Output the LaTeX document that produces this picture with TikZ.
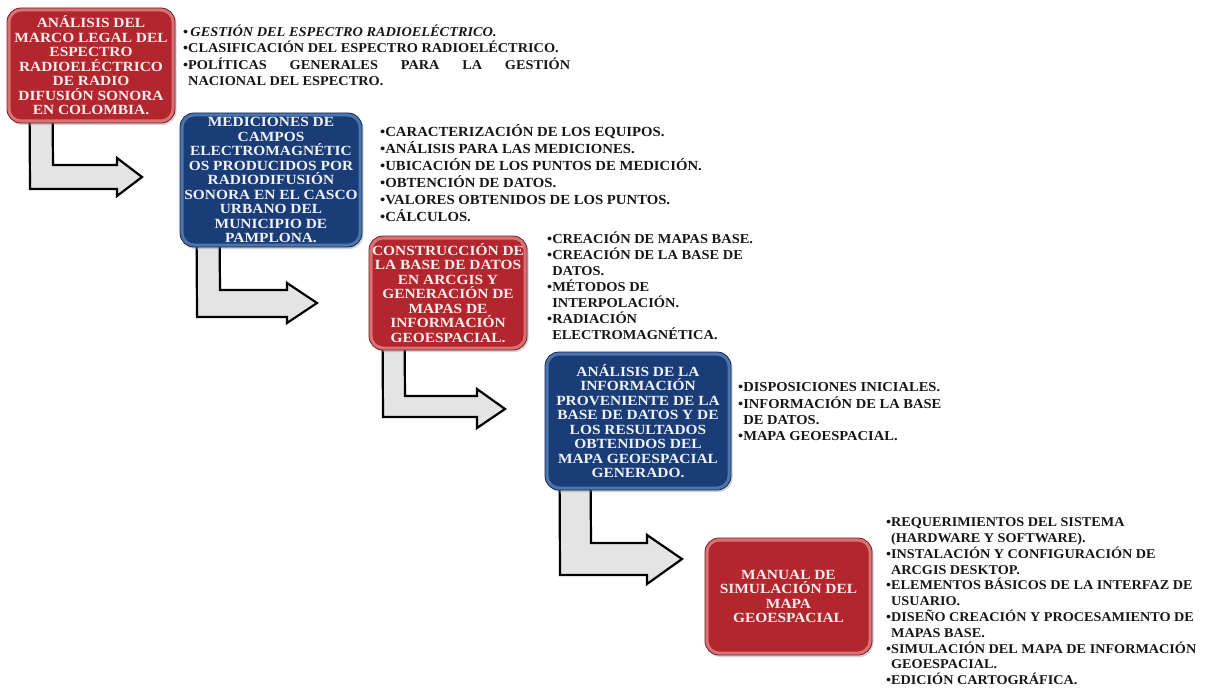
\documentclass[tikz,border=0pt]{standalone}
\usepackage{fontspec}
\setmainfont{Liberation Serif}
\newfontfamily\stagefont{Liberation Serif}[FakeStretch=1.10]
\newfontfamily\itemfont{Liberation Serif}[FakeStretch=1.06]
\usetikzlibrary{calc,shadows}
\pgfdeclarelayer{background}
\pgfsetlayers{background,main}

\definecolor{redbase}{HTML}{B3262D}
\definecolor{redrim}{HTML}{D97276}
\definecolor{rededge}{HTML}{7A1A1F}
\definecolor{redtext}{HTML}{F7EDED}
\definecolor{bluebase}{HTML}{1B3D77}
\definecolor{bluerim}{HTML}{4C75AE}
\definecolor{blueedge}{HTML}{10264A}
\definecolor{bluetext}{HTML}{EEF1F7}
\definecolor{arrowgray}{HTML}{E4E4E4}
\definecolor{itemtext}{HTML}{161616}

% strut that fixes the height of a list's first line
\newcommand\firstline{\rule{0pt}{13pt}}

\begin{document}
\begin{tikzpicture}[x=1pt,y=-1pt,
  stage/.style={rounded corners=14pt, inner sep=0pt, align=center,
    line width=0.8pt,
    font=\stagefont\bfseries\fontsize{14}{14.5}\selectfont,
    drop shadow={shadow xshift=1.5pt, shadow yshift=-2pt, opacity=0.35}},
  redstage/.style={stage, fill=redrim, draw=rededge, text=redtext,
    path picture={\fill[redbase, rounded corners=11pt]
      ([shift={(3.5pt,-3.5pt)}]path picture bounding box.north west) rectangle
      ([shift={(-3.5pt,3.5pt)}]path picture bounding box.south east);}},
  bluestage/.style={stage, fill=bluerim, draw=blueedge, text=bluetext,
    path picture={\fill[bluebase, rounded corners=11pt]
      ([shift={(3.5pt,-3.5pt)}]path picture bounding box.north west) rectangle
      ([shift={(-3.5pt,3.5pt)}]path picture bounding box.south east);}},
  items/.style={anchor=north west, inner sep=0pt, align=left, text=itemtext,
    font=\itemfont\bfseries\fontsize{13.5}{16.3}\selectfont},
  blockarrow/.style={fill=arrowgray, draw=black, line width=2.2pt, line join=miter}
]
\useasboundingbox (0,0) rectangle (1212,690);

% stages
\node[redstage, minimum width=168pt, minimum height=115pt] (b1) at (91,65.5)
  {ANÁLISIS DEL\\MARCO LEGAL DEL\\ESPECTRO\\RADIOELÉCTRICO\\DE RADIO\\DIFUSIÓN SONORA\\EN COLOMBIA.};
\node[bluestage, minimum width=182pt, minimum height=134pt] (b2) at (271,180)
  {MEDICIONES DE\\CAMPOS\\ELECTROMAGNÉTIC\\OS PRODUCIDOS POR\\RADIODIFUSIÓN\\SONORA EN EL CASCO\\URBANO DEL\\MUNICIPIO DE\\PAMPLONA.};
\node[redstage, minimum width=158pt, minimum height=114pt] (b3) at (448,293)
  {CONSTRUCCIÓN DE\\LA BASE DE DATOS\\EN ARCGIS Y\\GENERACIÓN DE\\MAPAS DE\\INFORMACIÓN\\GEOESPACIAL.};
\node[bluestage, minimum width=186pt, minimum height=138pt] (b4) at (638,421)
  {ANÁLISIS DE LA\\INFORMACIÓN\\PROVENIENTE DE LA\\BASE DE DATOS Y DE\\LOS RESULTADOS\\OBTENIDOS DEL\\MAPA GEOESPACIAL\\GENERADO.};
\node[redstage, minimum width=167pt, minimum height=117pt] (b5) at (788.5,596.5)
  {MANUAL DE\\SIMULACIÓN DEL\\MAPA\\GEOESPACIAL};

% topic lists
\node[items] (l1) at (183,23.5)
  {\firstline•\,\textit{GESTIÓN DEL ESPECTRO RADIOELÉCTRICO.}\\
   •CLASIFICACIÓN DEL ESPECTRO RADIOELÉCTRICO.\\
   \hbox to 387pt{•POLÍTICAS\hfil GENERALES\hfil PARA\hfil LA\hfil GESTIÓN}\\
   \phantom{•}NACIONAL DEL ESPECTRO.};
\node[items, font=\itemfont\bfseries\fontsize{13.9}{17}\selectfont] (l2) at (380,123.5)
  {\firstline•CARACTERIZACIÓN DE LOS EQUIPOS.\\
   •ANÁLISIS PARA LAS MEDICIONES.\\
   •UBICACIÓN DE LOS PUNTOS DE MEDICIÓN.\\
   •OBTENCIÓN DE DATOS.\\
   •VALORES OBTENIDOS DE LOS PUNTOS.\\
   •CÁLCULOS.};
\node[items, font=\itemfont\bfseries\fontsize{13.6}{16}\selectfont] (l3) at (547,230.5)
  {\firstline•CREACIÓN DE MAPAS BASE.\\
   •CREACIÓN DE LA BASE DE\\
   \phantom{•}DATOS.\\
   •MÉTODOS DE\\
   \phantom{•}INTERPOLACIÓN.\\
   •RADIACIÓN\\
   \phantom{•}ELECTROMAGNÉTICA.};
\node[items, font=\itemfont\bfseries\fontsize{13.7}{16.3}\selectfont] (l4) at (738,378.5)
  {\firstline•DISPOSICIONES INICIALES.\\
   •INFORMACIÓN DE LA BASE\\
   \phantom{•}DE DATOS.\\
   •MAPA GEOESPACIAL.};
\node[items, font=\itemfont\bfseries\fontsize{13.4}{15.8}\selectfont] (l5) at (886,513.5)
  {\firstline•REQUERIMIENTOS DEL SISTEMA\\
   \phantom{•}(HARDWARE Y SOFTWARE).\\
   •INSTALACIÓN Y CONFIGURACIÓN DE\\
   \phantom{•}ARCGIS DESKTOP.\\
   •ELEMENTOS BÁSICOS DE LA INTERFAZ DE\\
   \phantom{•}USUARIO.\\
   •DISEÑO CREACIÓN Y PROCESAMIENTO DE\\
   \phantom{•}MAPAS BASE.\\
   •SIMULACIÓN DEL MAPA DE INFORMACIÓN\\
   \phantom{•}GEOESPACIAL.\\
   •EDICIÓN CARTOGRÁFICA.};

% bent block arrows leading from each stage towards the next one
\begin{pgfonlayer}{background}
\draw[blockarrow] ($(b1.south west)+(23,-6)$) -- (30,189) -- (117,189) -- (117,196)
  -- (142,177) -- (117,158) -- (117,165) -- (53,165) -- ($(b1.south west)+(46,-6)$) -- cycle;
\draw[blockarrow] ($(b2.south west)+(17,-6)$) -- (197,317) -- (287,317) -- (287,323)
  -- (317,303) -- (287,283) -- (287,290) -- (220,290) -- ($(b2.south west)+(40,-6)$) -- cycle;
\draw[blockarrow] ($(b3.south west)+(14,-6)$) -- (383,417) -- (477,417) -- (477,428)
  -- (505,409) -- (477,389) -- (477,396) -- (405,396) -- ($(b3.south west)+(36,-6)$) -- cycle;
\draw[blockarrow] ($(b4.south west)+(15,-6)$) -- (560,575) -- (647,575) -- (647,584)
  -- (682,559) -- (647,535) -- (647,543) -- (591,543) -- ($(b4.south west)+(46,-6)$) -- cycle;
\end{pgfonlayer}
\end{tikzpicture}
\end{document}
